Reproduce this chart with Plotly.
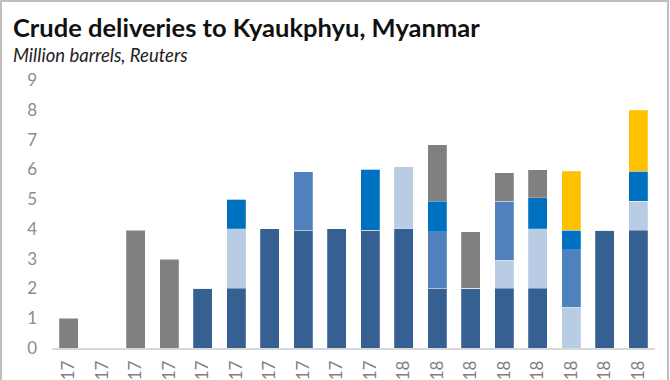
import plotly.graph_objects as go

categories = ["Mar-17", "Apr-17", "May-17", "Jun-17", "Jul-17", "Aug-17", "Sep-17", "Oct-17",
              "Nov-17", "Dec-17", "Jan-18", "Feb-18", "Mar-18", "Apr-18", "May-18", "Jun-18",
              "Jul-18", "Aug-18"]

series_names = ["Supplier A", "Supplier B", "Supplier C", "Supplier D", "Supplier E", "Supplier F"]
dark_blue   = [0, 0, 0, 0, 2, 2, 4, 3.96, 4, 3.96, 4, 2, 2, 2, 2, 0, 3.96, 3.96]
light_blue  = [0, 0, 0, 0, 0, 2, 0, 0, 0, 0, 2.08, 0, 0, 0.95, 2, 1.37, 0, 0.97]
mid_blue    = [0, 0, 0, 0, 0, 0, 0, 1.96, 0, 0, 0, 1.9, 0, 1.98, 0, 1.93, 0, 0]
bright_blue = [0, 0, 0, 0, 0, 1, 0, 0, 0, 2.04, 0, 1.03, 0, 0, 1.04, 0.65, 0, 1.0]
gray        = [1, 0, 3.96, 2.98, 0, 0, 0, 0, 0, 0, 0, 1.9, 1.9, 0.95, 0.94, 0, 0, 0]
yellow      = [0, 0, 0, 0, 0, 0, 0, 0, 0, 0, 0, 0, 0, 0, 0, 1.98, 0, 2.05]
y_ticks = [0, 1, 2, 3, 4, 5, 6, 7, 8, 9]

values = [dark_blue, light_blue, mid_blue, bright_blue, gray, yellow]
colors = ["#366092", "#b8cce4", "#4f81bd", "#0070c0", "#808080", "#ffc000"]

fig = go.Figure()
for name, vals, col in zip(series_names, values, colors):
    fig.add_trace(go.Bar(
        x=categories, y=vals, name=name,
        marker=dict(color=col, line=dict(width=0.6, color="rgba(255,255,255,0.35)")),
        hoverinfo="x+y+name",
    ))

W, H = 670, 380
ml, mr, mt, mb = 52, 15, 80, 32
pw, ph = W - ml - mr, H - mt - mb

fig.update_layout(
    width=W, height=H,
    barmode="stack",
    bargap=0.44,
    showlegend=False,
    plot_bgcolor="white",
    paper_bgcolor="white",
    margin=dict(l=ml, r=mr, t=mt, b=mb, autoexpand=False),
    font=dict(family="Lato, sans-serif", color="#808080"),
    xaxis=dict(
        type="category",
        tickangle=-90,
        tickfont=dict(size=17, color="#7f7f7f"),
        showline=True, linecolor="#d9d9d9", linewidth=1.5,
        ticks="", showgrid=False, automargin=False, ticklabelstandoff=4,
    ),
    yaxis=dict(
        range=[0, 9], tickvals=y_ticks,
        tickfont=dict(size=17, color="#8c8c8c"),
        showgrid=False, zeroline=False, showline=False,
        ticks="", ticklabelstandoff=14, automargin=False,
    ),
    annotations=[
        dict(text="<b>Crude deliveries to Kyaukphyu, Myanmar</b>", xref="paper", yref="paper",
             x=-(ml - 11) / pw, y=1 + (mt - 10) / ph, xanchor="left", yanchor="top",
             showarrow=False, font=dict(family="Lato, sans-serif", size=25.5, color="#111111")),
        dict(text="<i>Million barrels, Reuters</i>", xref="paper", yref="paper",
             x=-(ml - 11) / pw, y=1 + (mt - 42) / ph, xanchor="left", yanchor="top",
             showarrow=False, font=dict(family="Lato, sans-serif", size=18.5, color="#222222")),
    ],
    shapes=[
        dict(type="rect", xref="paper", yref="paper",
             x0=-(ml - 1) / pw, x1=1 + (mr - 2) / pw,
             y0=-(mb + 10) / ph, y1=1 + (mt - 1) / ph,
             line=dict(color="#bfbfbf", width=2), fillcolor="rgba(0,0,0,0)", layer="above"),
    ],
)

fig.write_html("out.html", config={"displayModeBar": False},
               post_script="document.body.style.margin='0';document.body.style.overflow='hidden';")
